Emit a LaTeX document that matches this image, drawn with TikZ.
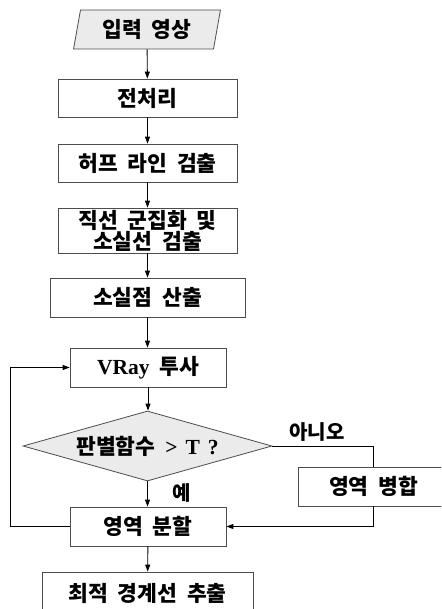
\documentclass[tikz,border=0pt]{standalone}
\usepackage{fontspec}
\setmainfont{Noto Sans CJK KR}[WordSpace=2]
\newfontfamily\lat{Liberation Serif}[WordSpace=1.5]
\usetikzlibrary{shapes.geometric,arrows.meta}
\begin{document}
\begin{tikzpicture}[x=1pt,y=-1pt,
  box/.style={draw=black!70, line width=0.8pt, fill=white, inner sep=0pt,
    font=\fontsize{21.5}{22}\bfseries, align=center},
  grayfill/.style={fill=black!8},
  arr/.style={-{Triangle[length=7pt,width=5pt]}, line width=0.9pt},
  ln/.style={line width=0.9pt},
  lbl/.style={font=\fontsize{20}{20}\bfseries, inner sep=0pt}]
\useasboundingbox (0,0) rectangle (441,609);
\clip (0,0) rectangle (441,609);
\node[box, grayfill, trapezium, trapezium left angle=77, trapezium right angle=103,
  trapezium stretches=true, minimum width=148pt, minimum height=39pt] (in) at (147,29.5) {입력 영상};
\node[box, minimum width=179pt, minimum height=38pt] (pre) at (147.5,98) {전처리};
\node[box, minimum width=179pt, minimum height=38pt] (hough) at (147.5,163) {허프 라인 검출};
\node[box, minimum width=179pt, minimum height=45pt] (clus) at (147.5,230.5) {직선 군집화 및\\[-1pt]소실선 검출};
\node[box, minimum width=195pt, minimum height=39pt] (vp) at (147.5,297.5) {소실점 산출};
\node[box, minimum width=156pt, minimum height=39pt] (vray) at (148,367.5) {{\lat VRay} 투사};
\node[box, grayfill, diamond, aspect=3.56, minimum width=249pt, minimum height=70pt] (dec) at (147.5,446) {판별함수 {\lat > T ?}};
\node[box, minimum width=156pt, minimum height=39pt] (split) at (148,526.5) {영역 분할};
\node[box, minimum width=151pt, minimum height=39pt] (merge) at (373.5,486.5) {영역 병합};
\node[box, minimum width=211pt, minimum height=43pt] (final) at (147.5,593.5) {최적 경계선 추출};
\node[lbl] (yes) at (182,493) {예};
\node[lbl] (no) at (317,432) {아니오};
\coordinate (lp) at (10,526.5);
\draw[arr] (in) -- (pre);
\draw[arr] (pre) -- (hough);
\draw[arr] (hough) -- (clus);
\draw[arr] (clus) -- (vp);
\draw[arr] (vp.south) -- (vp.south |- vray.north);
\draw[arr] (vray.south) -- (vray.south |- dec.north);
\draw[arr] (dec.south) -- (dec.south |- split.north);
\draw[ln] (dec.east) -| (merge.north);
\draw[arr] (merge.south) |- (split.east);
\draw[arr] (split.west) -- (lp) |- (vray.west);
\draw[arr] (split) -- (final);
\end{tikzpicture}
\end{document}
